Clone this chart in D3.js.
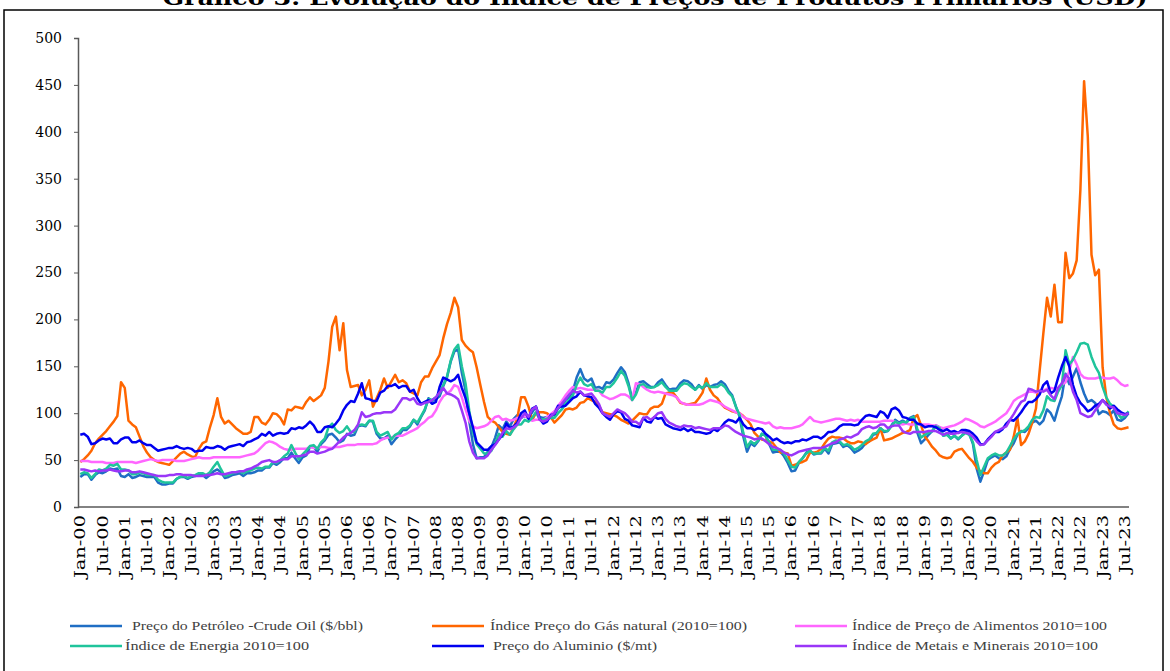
<!DOCTYPE html>
<html>
<head>
<meta charset="utf-8">
<script src="https://cdn.jsdelivr.net/npm/d3@7"></script>
<style>
  body { margin: 0; background: #fff; }
  svg { display: block; }
</style>
</head>
<body>
<div id="chart"></div>
<script>
// month axis: Jan-00 .. Aug-23
var years = ["00","01","02","03","04","05","06","07","08","09","10","11","12","13","14","15","16","17","18","19","20","21","22","23"];
var monthAbbr = ["Jan","Feb","Mar","Apr","May","Jun","Jul","Aug","Sep","Oct","Nov","Dec"];
var lastYearMonths = 8;

// series (2010 = 100)
var crudeOil = [
  32,35,35,29,34,37,36,38,41,40,41,33,
  32,35,31,32,34,33,32,32,32,26,24,24,
  25,25,30,32,32,30,32,33,35,34,31,34,
  38,40,37,31,32,34,35,36,33,36,36,37,
  39,39,42,42,47,45,48,52,52,58,52,47,
  53,55,64,64,59,67,71,77,78,74,69,71,
  78,76,77,86,87,86,92,91,78,73,73,76,
  67,72,76,82,82,86,93,88,96,103,116,113,
  115,118,129,138,155,166,168,143,124,92,67,52,
  53,53,59,64,74,87,83,91,86,94,98,95,
  97,95,101,107,96,95,96,97,98,105,108,114,
  117,124,138,147,137,134,137,127,128,126,133,132,
  136,143,149,144,132,115,122,133,134,131,128,128,
  133,136,130,125,126,126,132,135,134,131,125,130,
  126,130,128,130,131,134,131,124,119,107,96,75,
  59,68,65,70,78,76,67,58,59,59,54,47,
  38,39,47,52,58,60,56,57,57,62,57,67,
  68,69,64,66,63,58,60,63,68,70,77,78,
  84,80,81,87,93,90,92,90,95,97,79,68,
  72,77,81,87,85,76,78,73,76,72,76,80,
  78,67,41,27,38,50,53,55,52,51,54,62,
  68,77,81,80,84,90,92,88,92,104,100,92,
  106,118,142,131,139,148,133,121,112,114,111,99,
  102,101,98,103,93,92,95,100
];
var naturalGas = [
  48,51,55,60,68,73,77,81,86,91,97,133,
  127,92,88,85,75,65,58,53,50,48,47,46,
  45,49,53,57,59,56,54,53,62,68,70,85,
  98,116,96,89,92,88,84,81,78,78,80,96,
  96,90,88,93,100,99,95,88,104,103,107,106,
  105,112,117,113,116,119,127,155,192,203,167,196,
  146,128,129,130,119,125,135,107,116,125,137,127,
  134,141,133,135,132,123,121,119,133,139,139,148,
  155,162,180,195,207,223,213,178,172,168,165,149,
  130,112,96,92,90,85,80,78,77,85,95,117,
  117,107,93,100,101,101,100,96,90,94,98,104,
  105,104,106,111,112,116,114,112,108,101,100,99,
  98,96,93,91,89,92,96,100,99,99,105,107,
  107,110,121,122,122,117,111,110,109,110,111,116,
  122,137,125,119,116,110,106,104,102,101,100,97,
  93,88,79,75,72,71,70,68,63,58,58,57,
  44,45,47,48,50,58,58,59,62,68,73,75,
  74,74,73,70,68,68,70,69,67,70,72,74,
  84,71,72,73,75,77,79,80,82,95,98,87,
  75,70,64,60,55,53,52,53,59,61,62,57,
  52,48,42,38,36,36,42,46,48,55,58,61,
  75,95,66,70,78,90,105,145,185,223,203,237,
  197,197,271,244,249,263,338,454,395,269,247,253,
  149,117,100,88,84,83,84,85
];
var food = [
  49,49,49,48,48,48,48,47,47,47,48,48,
  48,48,48,47,48,49,50,51,50,49,50,50,
  50,50,49,49,49,50,51,52,53,52,52,52,
  53,53,53,53,53,53,53,53,54,55,56,57,
  60,64,68,70,69,67,64,62,61,61,62,62,
  62,62,64,63,63,64,64,63,63,64,64,65,
  66,66,66,67,67,67,67,67,68,71,73,74,
  74,76,76,76,78,80,82,84,88,91,95,97,
  103,112,118,121,124,130,128,117,104,92,86,84,
  85,86,88,92,96,97,93,94,92,93,95,96,
  97,95,92,93,93,92,96,99,102,108,113,119,
  124,128,126,127,126,125,125,125,124,119,117,115,
  116,118,120,120,118,114,132,131,128,125,123,122,
  123,122,121,120,119,117,112,110,109,109,109,109,
  110,112,114,113,112,110,107,105,103,101,100,96,
  94,93,92,91,90,89,90,86,84,85,84,84,
  84,85,86,88,92,96,92,91,90,91,92,93,
  94,94,93,92,93,92,93,91,91,91,91,91,
  91,92,92,92,91,89,88,89,88,88,88,88,
  88,88,87,87,85,84,85,86,87,89,91,94,
  93,91,89,86,85,87,89,91,94,97,100,106,
  113,116,118,120,123,123,122,124,124,126,127,126,
  127,130,133,145,160,152,142,138,137,137,137,138,
  138,137,137,138,135,131,129,130
];
var energy = [
  35,37,36,31,35,40,39,41,45,44,46,40,
  40,39,35,35,37,36,34,34,34,29,27,26,
  26,26,30,32,33,31,33,34,36,36,34,37,
  43,48,40,33,34,36,37,38,36,38,39,41,
  42,41,43,43,48,47,50,54,57,66,58,51,
  56,60,65,66,62,69,73,85,89,82,79,81,
  86,80,80,87,88,87,92,92,80,76,78,80,
  72,77,79,84,84,87,93,90,97,104,115,114,
  117,121,130,139,156,168,173,150,132,103,80,67,
  62,57,57,60,68,78,75,81,77,83,88,88,
  93,91,95,101,94,93,94,95,95,100,104,110,
  114,119,130,138,131,129,131,124,124,122,128,128,
  132,138,145,140,129,114,120,130,131,128,127,128,
  130,133,128,124,124,124,129,132,131,128,125,129,
  127,132,128,128,128,131,128,122,118,107,98,79,
  64,70,67,71,78,76,69,61,61,61,57,50,
  43,42,48,52,57,60,57,57,58,63,60,69,
  71,70,66,67,65,61,63,66,70,72,78,79,
  84,81,81,86,91,89,91,90,94,96,83,74,
  77,79,81,86,84,76,77,73,76,73,76,79,
  77,69,50,34,43,52,55,57,55,55,58,65,
  72,78,80,82,86,93,96,95,103,118,114,113,
  123,130,167,152,157,165,174,175,173,160,150,143,
  128,117,110,107,100,95,97,102
];
var aluminium = [
  77,78,75,67,68,71,73,72,73,68,68,72,
  74,74,69,69,71,68,66,66,63,60,61,62,
  63,63,65,63,62,63,62,59,60,60,64,63,
  63,65,64,61,64,65,66,67,65,69,70,72,
  74,78,76,80,76,78,79,78,79,84,83,85,
  84,87,91,87,80,80,85,86,85,89,94,103,
  109,113,112,121,132,116,115,113,113,122,124,129,
  129,131,127,129,129,123,125,116,110,112,114,110,
  112,128,138,136,134,136,141,127,116,100,85,69,
  65,61,61,65,67,72,77,89,84,86,90,100,
  103,94,105,107,94,89,91,98,99,108,107,108,
  112,116,118,123,119,118,117,110,106,100,96,93,
  99,102,101,94,92,87,86,85,95,91,90,96,
  94,95,88,86,84,83,82,84,81,83,80,80,
  79,78,79,83,81,85,90,93,92,90,95,88,
  84,84,82,84,83,78,75,71,73,70,68,69,
  68,70,70,72,71,73,75,75,73,76,80,80,
  82,86,88,88,88,87,88,93,97,98,97,96,
  102,100,95,104,106,103,96,95,93,93,89,88,
  85,86,86,85,82,81,83,80,81,79,82,82,
  81,78,74,67,67,72,76,80,80,83,89,93,
  92,96,101,107,112,112,115,120,130,134,121,124,
  138,150,160,150,130,118,111,107,102,104,108,110,
  114,110,105,108,104,101,99,100
];
var metals = [
  40,40,39,38,39,38,39,39,40,39,38,38,
  39,39,37,37,38,37,36,35,34,33,33,33,
  34,34,35,35,34,34,34,33,33,33,34,34,
  35,36,35,35,36,37,37,38,38,40,41,43,
  45,48,49,50,48,48,50,51,51,54,54,54,
  55,56,59,59,57,58,59,61,62,66,70,74,
  77,79,82,88,101,96,97,99,100,100,101,101,
  101,104,110,116,116,114,116,110,109,111,112,114,
  117,122,127,121,120,118,115,103,90,70,58,52,
  52,52,55,61,66,72,79,84,83,85,88,95,
  100,96,104,107,93,91,93,97,100,106,110,115,
  120,124,122,123,119,120,121,116,110,100,98,96,
  100,104,102,100,96,91,91,88,95,96,93,96,
  100,101,94,90,88,86,85,87,86,86,84,85,
  84,83,82,84,84,84,87,86,83,80,78,76,
  75,74,72,73,73,70,67,64,63,61,58,56,
  55,57,59,60,61,62,63,63,63,64,66,68,
  69,72,73,75,74,76,78,83,85,86,84,85,
  88,88,84,86,87,87,81,79,78,80,80,80,
  80,81,81,81,79,77,79,78,78,79,80,79,
  78,75,70,66,67,71,75,80,82,84,86,93,
  99,106,112,114,126,125,123,124,123,125,119,115,
  127,132,141,137,123,114,100,98,96,97,103,108,
  114,109,107,106,100,99,98,100
];

var yTicks = [0, 50, 100, 150, 200, 250, 300, 350, 400, 450, 500];

var seriesNames = [
  "Preço do Petróleo -Crude Oil ($/bbl)",
  "Índice Preço do Gás natural (2010=100)",
  "Índice de Preço de Alimentos 2010=100",
  "Índice de Energia 2010=100",
  "Preço do Aluminio ($/mt)",
  "Índice de Metais e Minerais 2010=100"
];
var seriesColors = ["#1f6ec4", "#ff6600", "#ff66ff", "#1fc49b", "#0000f0", "#9a36f8"];
var seriesValues = [crudeOil, naturalGas, food, energy, aluminium, metals];

// categories
var months = [];
years.forEach(function(y, yi) {
  var n = (yi == years.length - 1) ? lastYearMonths : 12;
  for (var i = 0; i < n; i++) months.push(monthAbbr[i] + "-" + y);
});

var width = 1170, height = 671;
var svg = d3.select("#chart").append("svg")
  .attr("width", width)
  .attr("height", height);

// frame
svg.append("rect")
  .attr("x", 4).attr("y", 10)
  .attr("width", 1159).attr("height", 680)
  .attr("fill", "none")
  .attr("stroke", "#000")
  .attr("stroke-width", 1.5);

// title (cut off at the top as in the source)
svg.append("text")
  .attr("x", 655).attr("y", 5)
  .attr("text-anchor", "middle")
  .attr("font-family", "DejaVu Serif")
  .attr("font-weight", "bold")
  .attr("font-size", 20)
  .attr("textLength", 985)
  .attr("lengthAdjust", "spacingAndGlyphs")
  .text("Gráfico 3: Evolução do Índice de Preços de Produtos Primários (USD)");

var x = d3.scalePoint().domain(months).range([80.3, 80.3 + 3.704 * (months.length - 1)]);
var y = d3.scaleLinear().domain([0, 500]).range([507, 38]);

// y axis
var yAxis = svg.append("g")
  .attr("transform", "translate(78,0)")
  .call(d3.axisLeft(y).tickValues(yTicks).tickSize(4).tickPadding(12));
yAxis.select(".domain").attr("stroke", "#595959").attr("stroke-width", 1.5);
yAxis.selectAll(".tick line").attr("stroke", "#595959");
yAxis.selectAll("text")
  .attr("font-family", "DejaVu Serif")
  .attr("font-size", 14)
  .attr("fill", "#000");

// x axis line
svg.append("line")
  .attr("x1", 78).attr("x2", 1129)
  .attr("y1", 507).attr("y2", 507)
  .attr("stroke", "#595959")
  .attr("stroke-width", 1.5);

// x tick labels every 6 months
var tickMonths = months.filter(function(d, i) { return i % 6 == 0; });
svg.append("g").selectAll("text")
  .data(tickMonths)
  .enter().append("text")
  .attr("transform", function(d) { return "translate(" + (x(d) + 5) + ",515) rotate(-90)"; })
  .attr("text-anchor", "end")
  .attr("font-family", "DejaVu Serif")
  .attr("font-size", 15)
  .attr("textLength", function(d) { return d.indexOf("Jan") == 0 ? 63 : 58; })
  .attr("lengthAdjust", "spacingAndGlyphs")
  .attr("fill", "#000")
  .text(function(d) { return d; });

// lines
var line = d3.line()
  .x(function(d, i) { return x(months[i]); })
  .y(function(d) { return y(d); });

svg.append("g").selectAll("path")
  .data(seriesValues)
  .enter().append("path")
  .attr("d", function(d) { return line(d); })
  .attr("fill", "none")
  .attr("stroke", function(d, i) { return seriesColors[i]; })
  .attr("stroke-width", 2.5)
  .attr("stroke-linejoin", "round");

// legend
var legendPos = [
  { lx: 70, tx: 132, y: 626, w: 231 },
  { lx: 432, tx: 490, y: 626, w: 257 },
  { lx: 795, tx: 852, y: 626, w: 255 },
  { lx: 70, tx: 125, y: 646, w: 184 },
  { lx: 432, tx: 493, y: 646, w: 164 },
  { lx: 795, tx: 852, y: 646, w: 246 }
];
var legend = svg.append("g").selectAll("g")
  .data(seriesNames)
  .enter().append("g");
legend.append("line")
  .attr("x1", function(d, i) { return legendPos[i].lx; })
  .attr("x2", function(d, i) { return legendPos[i].lx + 52; })
  .attr("y1", function(d, i) { return legendPos[i].y; })
  .attr("y2", function(d, i) { return legendPos[i].y; })
  .attr("stroke", function(d, i) { return seriesColors[i]; })
  .attr("stroke-width", 2.5);
legend.append("text")
  .attr("x", function(d, i) { return legendPos[i].tx; })
  .attr("y", function(d, i) { return legendPos[i].y + 4; })
  .attr("font-family", "Liberation Serif")
  .attr("font-size", 13)
  .attr("fill", "#404040")
  .attr("textLength", function(d, i) { return legendPos[i].w; })
  .attr("lengthAdjust", "spacingAndGlyphs")
  .text(function(d) { return d; });
</script>
</body>
</html>
